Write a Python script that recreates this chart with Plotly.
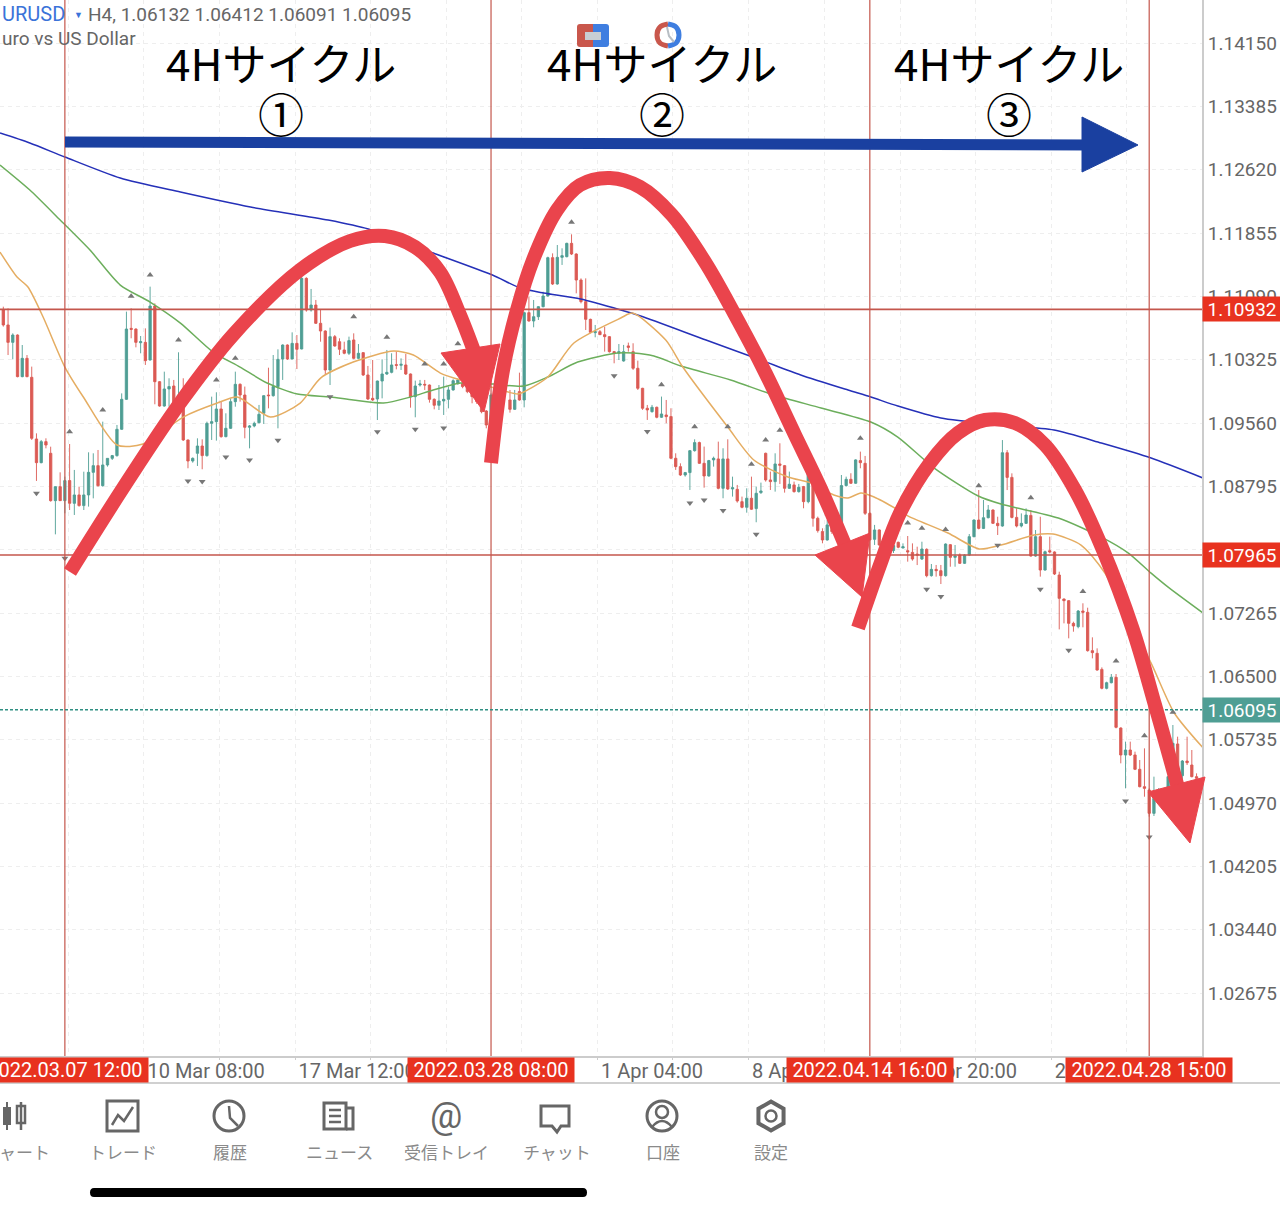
import numpy as np
import plotly.graph_objects as go

# candles, in points (1/100000 of a price unit), one per 4H bar
opens = [110925,110744,110534,110623,110120,110341,110112,109367,109081,109335,
         109194,108622,108791,108622,108864,108590,108691,108562,108691,108964,
         109045,108803,109053,109133,109166,109484,109846,110703,110695,110530,
         110534,110321,110973,110059,109765,109971,110007,109765,109765,109355,
         109101,109194,109282,109166,109556,109576,109729,109395,109496,109818,
         110027,109898,109508,109524,109564,109677,109898,109890,110000,110333,
         110502,110333,110522,110454,111307,110925,110985,110764,110671,110200,
         110603,110542,110442,110402,110563,110341,110410,110140,109858,109850,
         110067,110152,110172,110265,110257,110261,110152,109878,110019,110027,
         110019,109846,109774,109826,109846,109959,110039,110039,110000,109939,
         109878,109818,109705,109556,109959,109959,110019,109838,109725,109939,
         109838,110893,110792,110844,110965,111094,111557,111239,111561,111569,
         111730,111601,111287,111026,110812,110651,110663,110627,110603,110422,
         110402,110309,110491,110422,110221,109979,109738,109697,109750,109629,
         109657,109637,109134,109033,108932,108961,109226,109323,109073,108920,
         109114,109126,108771,109126,108763,108759,108610,108542,108651,108526,
         108719,109194,108872,108852,109065,109045,108771,108812,108731,108792,
         108610,108872,108409,108248,108147,108308,108268,108308,108804,108880,
         108832,109106,109073,108469,108155,108268,108087,108030,108020,108119,
         108050,108018,107997,107977,107917,108034,107716,107792,107776,107716,
         108090,107937,107965,107865,107965,108187,108388,108287,108416,108509,
         108348,108316,109201,108903,108420,108316,108348,108444,107953,108187,
         107784,108018,108002,107724,107434,107414,107140,107100,107289,107273,
         106810,106778,106584,106355,106423,106488,105876,105550,105610,105550,
         105377,105167,105127,104845,105026,105107,105147,105248,105683,105300,
         105477,105429,105288]
highs = [110965,110945,110643,110630,110502,110381,110241,109435,109355,109375,
         109274,108795,108964,108912,109306,108993,108791,108972,109206,109194,
         109234,109576,109133,109174,109536,109918,110905,110945,110703,110611,
         110703,111207,111005,110067,110180,110100,110080,110414,110100,109360,
         109145,109375,109363,109576,109878,109931,109818,109677,109858,110180,
         110039,110000,109536,109576,109778,109895,110228,110381,110450,110510,
         110510,110655,110623,111328,111320,111179,111046,110925,110680,110712,
         110623,110583,110542,110603,110643,110514,110415,110249,110321,110072,
         110329,110442,110402,110422,110341,110394,110158,110072,110080,110080,
         110025,109858,110019,110120,110000,110088,110100,110060,110020,109960,
         109900,109838,109717,109918,109980,110020,110040,109959,109959,110168,
         110905,111086,111046,110973,111146,111569,111609,111710,111670,111738,
         111839,111610,111307,111307,110820,110744,110683,110724,110610,110430,
         110514,110503,110531,110523,110313,109985,109778,109778,109758,109879,
         109838,109738,109194,109073,108969,109234,109363,109335,109275,109114,
         109154,109335,109255,109363,108912,108812,108671,108771,108912,108792,
         108840,109202,108973,109194,109315,109053,108973,108852,108824,108800,
         108973,108953,108429,108288,108389,108330,108490,108932,108912,108953,
         109122,109214,109162,108480,108329,108276,108120,108060,108110,108127,
         108106,108195,108106,108066,108126,108046,107857,107845,107845,108106,
         108098,108086,107985,107977,108219,108396,108750,108630,108569,108517,
         108428,109354,109233,108952,108529,108468,108529,108509,108267,108428,
         108018,108187,108010,107764,107440,107420,107160,107301,107382,107329,
         106971,106838,106608,106435,106528,106528,105884,105711,105711,105590,
         105489,105630,105147,105288,105150,105130,105300,105912,105771,105489,
         105771,105610,105328]
lows = [110724,110381,110329,110112,110112,110112,109355,108860,109073,109254,
        108610,108215,108618,108469,108509,108449,108550,108509,108550,108650,
        108791,108791,109033,109113,109153,109476,109838,110583,110474,110402,
        110261,110315,109786,109757,109757,109757,109737,109740,109343,109013,
        109081,109041,109001,109153,109355,109347,109383,109387,109488,109757,
        109818,109375,109254,109508,109556,109548,109737,109878,109496,110080,
        110321,110329,110212,110450,110905,110905,110756,110542,110140,110019,
        110482,110381,110390,110381,110329,110329,110128,109838,109826,109596,
        109858,110140,110160,110208,110200,110140,109745,109629,110000,109959,
        109806,109725,109717,109657,109737,109951,110020,109980,109920,109798,
        109790,109677,109496,109548,109880,109940,109960,109685,109717,109830,
        109749,110784,110716,110804,110957,111086,111227,111231,111469,111561,
        111589,111126,111005,110683,110643,110595,110623,110422,110410,110281,
        110321,110301,110422,110201,109959,109718,109597,109685,109617,109621,
        109557,109122,108993,108920,108912,108751,109214,109065,108779,108912,
        109033,108759,108651,108751,108671,108598,108530,108477,108510,108361,
        108703,108852,108751,108731,108824,108719,108763,108719,108719,108530,
        108590,108308,108236,108107,108139,108220,108240,108288,108792,108824,
        108824,109013,108449,107745,108087,108075,108000,107970,107990,108047,
        108046,107885,107897,107844,107905,107696,107704,107704,107615,107704,
        107824,107824,107857,107857,107953,108179,108275,108279,108408,108340,
        108207,108307,108750,108408,108299,108299,108340,107945,107945,107704,
        107776,107985,107724,107067,107140,106959,107039,107080,107092,106798,
        106717,106568,106343,106343,106415,105872,105449,105147,105538,105368,
        105159,105046,104805,104813,104990,105040,105040,105207,105228,105228,
        105429,105280,105248]
closes = [110744,110534,110623,110120,110341,110120,109375,109081,109335,109294,
          108622,108791,108622,108864,108590,108691,108562,108691,108964,109045,
          108803,109053,109133,109166,109484,109846,110695,110691,110534,110542,
          110313,110973,110059,109765,109971,110000,109765,109898,109355,109101,
          109133,109282,109166,109556,109576,109729,109395,109496,109818,110027,
          109898,109508,109524,109556,109665,109890,109890,110000,110329,110502,
          110333,110522,110450,111307,110925,110985,110764,110671,110200,110603,
          110490,110450,110402,110555,110341,110402,110140,109850,109838,110067,
          110152,110172,110261,110257,110269,110152,109878,110007,110031,110019,
          109846,109774,109826,109846,109959,110071,110080,110000,109939,109878,
          109818,109697,109536,109898,109898,110000,109979,109725,109838,109838,
          110893,110792,110844,110965,111094,111557,111239,111561,111581,111730,
          111601,111287,111026,110812,110655,110663,110627,110603,110422,110402,
          110422,110422,110474,110221,109979,109738,109718,109750,109629,109669,
          109637,109134,109033,108932,108961,109226,109323,109073,108920,109106,
          109134,108771,109126,108763,108779,108618,108542,108651,108518,108711,
          108739,108872,108852,109065,109049,108771,108820,108731,108784,108610,
          108953,108409,108260,108147,108329,108248,108469,108804,108880,108832,
          109114,109081,108469,108147,108268,108087,108030,108000,108080,108059,
          108066,108002,107917,107965,108038,107716,107792,107776,107716,108098,
          107937,107953,107865,107965,108187,108388,108287,108416,108509,108348,
          108320,109201,108903,108420,108316,108348,108448,107953,108187,107784,
          108005,108002,107736,107442,107414,107140,107108,107289,107273,106810,
          106786,106576,106355,106423,106488,105884,105550,105610,105550,105377,
          105167,105147,104845,105026,105107,105067,105288,105691,105248,105477,
          105457,105288,105268]

# moving averages, read at the bars where they bend
blue_idx = [-0.7,5.6,13,24.7,37.4,52.2,68.6,77.1,90.8,103.3,109.2,114.1,121.9,130.4,134.6,148.4,
            159.4,168.4,178.4,183.2,188.9,198,210.7,221.9,231.9,242.4,253.4]
blue_val = [113062,112942,112773,112519,112350,112169,112012,111903,111613,111347,111190,111130,
            111057,110925,110852,110562,110333,110140,109958,109874,109765,109620,109535,109475,
            109318,109137,108895]
green_idx = [-0.7,5.6,12,18.3,24.7,31,37.4,44.3,50,55.7,62.1,69.1,73.9,80.3,86,90.8,96.6,103.5,
             109.9,115,121.3,129.7,133.1,137.4,143.1,153.6,162.7,172.7,183.2,188.9,196.6,205.9,
             210.7,222.8,231.9,237.6,242.4,246,253.4]
green_val = [112676,112374,112012,111649,111226,111021,110767,110417,110236,110043,109910,109874,
             109837,109801,109874,109958,110043,110031,110006,110115,110296,110405,110405,110369,
             110248,110079,109898,109741,109572,109390,109016,108678,108581,108412,108182,107989,
             107747,107578,107264]
orange_idx = [-0.7,2.9,5.2,8.4,13,16.9,24,29.5,38,45.2,49.4,56.4,62.7,67,73.9,82.4,86.6,92.3,96.6,
              102.9,108.6,109.9,115,120.5,130.4,132.9,139.9,143.5,153,158.5,165.7,170.6,175.4,
              178.4,181.1,183.9,189,191.1,199.5,206.1,210.7,217.7,221.7,227.6,232.5,242.4,247.3,253.4]
orange_val = [111625,111323,111202,110840,110236,109874,109294,109306,109632,109801,109874,109632,
              109801,110103,110296,110429,110381,110163,110079,109994,109910,109934,110115,110526,
              110828,110888,110562,110236,109511,109113,108907,108835,108690,108654,108714,108666,
              108509,108436,108231,108038,108086,108207,108219,108086,107760,106660,106057,105634]

# fractal markers
up_idx = [14,21,27,31,37,45,49,74,81,89,93,96,111,120,139,146,153,158,161,164,181,191,194,199,206,217,228,235,241,247]
up_val = [109455,109717,111090,111348,110563,110080,110341,110844,110595,110273,110273,110518,111509,111984,
          110023,109516,109516,109061,109355,109472,109375,108353,108288,108275,108803,108658,107526,106685,105783,106065]
down_idx = [7,13,39,42,47,52,58,69,79,87,93,129,136,145,148,152,159,195,198,210,219,225,237,242]
down_val = [108711,107926,108860,108852,109149,109113,109351,109878,109455,109484,109500,110132,
            109456,108594,108631,108502,108216,107552,107463,108082,107551,106814,104994,104559]

# axis labels
price_ticks = ["1.14150","1.13385","1.12620","1.11855","1.11090","1.10325","1.09560","1.08795",
               "1.08030","1.07265","1.06500","1.05735","1.04970","1.04205","1.03440","1.02675"]
time_ticks = [29.7,61.6,93.6,125.5,157.4,189.4,221.3]
time_labels = ["10 Mar 08:00","17 Mar 12:00","","1 Apr 04:00","8 Apr 12:00","15 Apr 20:00","22 Apr 00:00"]
time_minor = [13.7,45.6,77.6,109.5,141.4,173.4,205.3,237.2]

# cycle boundaries and levels
cycle_idx = [13,103,183,242]
cycle_dates = ["2022.03.07 12:00","2022.03.28 08:00","2022.04.14 16:00","2022.04.28 15:00"]
levels = ["1.10932","1.07965"]
bid = "1.06095"

# hand drawn marks on the screenshot, in image pixels
stroke_1 = [(70,572),(125,485),(180,403),(233,335),(300,270),(350,241),(385,236),(415,247),(440,272),(460,315),(478,362)]
head_1 = [(441,353),(500,344),(484,412)]
stroke_2 = [(491,463),(503,370),(517,310),(533,260),(557,210),(580,185),(610,178),(640,187),(672,215),(705,262),(735,315),(765,372),(795,435),(820,487),(845,545)]
head_2 = [(815,555),(870,533),(862,597)]
stroke_3 = [(858,628),(880,565),(900,513),(930,463),(958,433),(985,420),(1015,423),(1045,445),(1075,490),(1103,550),(1133,630),(1155,705),(1180,795)]
head_3 = [(1148,792),(1205,777),(1190,843)]
blue_arrow = [(65,142),(1090,145)]
blue_head = [(1082,117),(1138,145),(1082,172)]
flag_left = [(668,24),(660,27),(657,35),(660,43),(668,46)]
flag_right = [(668,24),(676,27),(679,35),(676,43),(668,46)]
flag_hand = [(667,27),(669,36),(674,42)]
cycle_titles = [(281,"4Hサイクル","①"),(662,"4Hサイクル","②"),(1009,"4Hサイクル","③")]
nav_labels = [(24,"ャート"),(123,"トレード"),(230,"履歴"),(339,"ニュース"),(446,"受信トレイ"),(557,"チャット"),(663,"口座"),(771,"設定")]

RED = "#ea444c"
GREEN = "#4f9e94"
CANDLE_RED = "#db5a54"
LEVEL = "#c4564c"
GRID = "#eeeeee"
GREY = "#666666"
FONT = "Roboto"
CJK = "Noto Sans CJK JP"

n = len(opens)
idx = list(range(n))
x_range = [-0.7, 253.15]
pts = lambda v: np.array(v) / 1e5

fig = go.Figure()

fig.add_trace(go.Candlestick(
    x=idx, open=pts(opens), high=pts(highs), low=pts(lows), close=pts(closes),
    increasing=dict(line=dict(color=GREEN, width=0.9), fillcolor=GREEN),
    decreasing=dict(line=dict(color=CANDLE_RED, width=0.9), fillcolor=CANDLE_RED),
    whiskerwidth=0, showlegend=False))

for xs, ys, color in [(blue_idx, blue_val, "#2530b8"), (green_idx, green_val, "#6cae5c"), (orange_idx, orange_val, "#e5ad62")]:
    fig.add_trace(go.Scatter(x=xs, y=pts(ys), mode="lines", line=dict(color=color, width=1.5, shape="spline", smoothing=0.7)))

fig.add_trace(go.Scatter(x=up_idx, y=pts(up_val), mode="markers",
                         marker=dict(symbol="triangle-up", size=6, color="#777777")))
fig.add_trace(go.Scatter(x=down_idx, y=pts(down_val), mode="markers",
                         marker=dict(symbol="triangle-down", size=6, color="#777777")))

for c in cycle_idx:
    fig.add_trace(go.Scatter(x=[c, c], y=[1.01914, 1.146694], mode="lines", line=dict(color=LEVEL, width=1.2)))
for lv in levels:
    fig.add_trace(go.Scatter(x=x_range, y=[float(lv)] * 2, mode="lines", line=dict(color=LEVEL, width=1.6)))
fig.add_trace(go.Scatter(x=x_range, y=[float(bid)] * 2, mode="lines",
                         line=dict(color="#2f8f82", width=1.5, dash="3px,2px")))


def canvas_line(pts_xy, color, width, spline=False):
    fig.add_trace(go.Scatter(
        x=[p[0] for p in pts_xy], y=[p[1] for p in pts_xy], mode="lines", xaxis="x2", yaxis="y2",
        line=dict(color=color, width=width, shape="spline" if spline else "linear")))


def canvas_fill(pts_xy, color):
    closed = pts_xy + pts_xy[:1]
    fig.add_trace(go.Scatter(
        x=[p[0] for p in closed], y=[p[1] for p in closed], mode="lines", fill="toself", xaxis="x2", yaxis="y2",
        fillcolor=color, line=dict(color=color, width=1)))


canvas_line(blue_arrow, "#1a40a0", 11)
canvas_fill(blue_head, "#1a40a0")
for stroke, head in [(stroke_1, head_1), (stroke_2, head_2), (stroke_3, head_3)]:
    canvas_line(stroke, RED, 14, spline=True)
    canvas_fill(head, RED)

canvas_line(flag_left, "#c9574c", 5, spline=True)
canvas_line(flag_right, "#3f7ee0", 5, spline=True)
canvas_line(flag_hand, "#b8bec4", 2)

shapes = [
    # calendar flag at the top of the chart
    dict(type="path", path="M 580,24 L 593,24 L 593,47 L 580,47 Q 577,47 577,44 L 577,27 Q 577,24 580,24 Z",
         fillcolor="#c9574c", line_width=0),
    dict(type="path", path="M 593,24 L 606,24 Q 609,24 609,27 L 609,44 Q 609,47 606,47 L 593,47 Z",
         fillcolor="#3f7ee0", line_width=0),
    dict(type="rect", x0=585, x1=601, y0=32, y1=40, fillcolor="#c8ced4", line_width=0),
    # strip under the time axis and home bar
    dict(type="line", x0=0, x1=1280, y0=1083, y1=1083, line=dict(color="#d0d0d0", width=2)),
    dict(type="path", path="M 94,1188 L 583,1188 Q 587,1188 587,1192.5 Q 587,1197 583,1197 L 94,1197 "
                           "Q 90,1197 90,1192.5 Q 90,1188 94,1188 Z", fillcolor="#000000", line_width=0),
    # candle icon
    dict(type="rect", x0=3, x1=11, y0=1107, y1=1125, fillcolor=GREY, line_width=0),
    dict(type="line", x0=7, x1=7, y0=1102, y1=1130, line=dict(color=GREY, width=2)),
    dict(type="rect", x0=17, x1=25, y0=1106, y1=1123, fillcolor="#ffffff", line=dict(color=GREY, width=2.5)),
    dict(type="line", x0=21, x1=21, y0=1102, y1=1130, line=dict(color=GREY, width=2.5)),
    # trade icon
    dict(type="rect", x0=107, x1=138, y0=1101, y1=1131, line=dict(color=GREY, width=3)),
    dict(type="path", path="M 112,1125 L 118,1115 L 124,1121 L 133,1107", line=dict(color=GREY, width=2.5)),
    # history hands
    dict(type="path", path="M 229,1106 L 230,1118 L 238,1126", line=dict(color=GREY, width=2.5)),
    # news icon
    dict(type="rect", x0=324, x1=346, y0=1103, y1=1129, line=dict(color=GREY, width=3)),
    dict(type="path", path="M 346,1108 L 353,1108 L 353,1129 L 346,1129", line=dict(color=GREY, width=3)),
    dict(type="line", x0=329, x1=341, y0=1110, y1=1110, line=dict(color=GREY, width=2.5)),
    dict(type="line", x0=329, x1=341, y0=1116, y1=1116, line=dict(color=GREY, width=2.5)),
    dict(type="line", x0=329, x1=341, y0=1122, y1=1122, line=dict(color=GREY, width=2.5)),
    # chat icon
    dict(type="path", path="M 541,1106 L 569,1106 L 569,1126 L 561,1126 L 557,1132 L 552,1126 L 541,1126 Z",
         line=dict(color=GREY, width=3)),
    # account shoulders
    dict(type="path", path="M 652,1127 Q 662,1115 672,1127", line=dict(color=GREY, width=2.5)),
]
for s in shapes:
    s.update(xref="x2", yref="y2")

# history clock, account, settings
for xy, symbol, size, lw in [((229, 1116), "circle-open", 30, 3), ((662, 1116), "circle-open", 30, 3),
                             ((662, 1112), "circle-open", 12, 2.5), ((771, 1116), "hexagon-open", 29, 4),
                             ((771, 1116), "circle-open", 11, 2.5)]:
    fig.add_trace(go.Scatter(x=[xy[0]], y=[xy[1]], mode="markers", xaxis="x2", yaxis="y2",
                             marker=dict(symbol=symbol, size=size, color=GREY, line=dict(color=GREY, width=lw))))


def note(x, y, text, size, color, family=FONT, anchor="center", **kw):
    return dict(x=x, y=y, xref="x2", yref="y2", text=text, showarrow=False, xanchor=anchor,
                font=dict(family=family, size=size, color=color), **kw)


annotations = [
    note(0, 14, "URUSD", 20, "#3b73d9", anchor="left"),
    note(72, 15, "▼", 9, "#3b73d9", anchor="left"),
    note(86, 14, "H4, 1.06132 1.06412 1.06091 1.06095", 19, "#666666", anchor="left"),
    note(0, 38, "uro vs US Dollar", 19, "#666666", anchor="left"),
    note(446, 1116, "@", 36, GREY),
]
for x, title, num in cycle_titles:
    annotations.append(note(x, 62, title, 44, "#000000", family=CJK))
    annotations.append(note(x, 112, num, 46, "#000000", family=CJK))
for x, label in nav_labels:
    annotations.append(note(x, 1151, label, 17, "#8a8a8a", family=CJK))
for lv in levels:
    annotations.append(dict(x=1242, y=float(lv), xref="x2", yref="y", text=lv, showarrow=False, bgcolor="#e8321f",
                            width=76, height=22, font=dict(family=FONT, size=19, color="#ffffff")))
annotations.append(dict(x=1242, y=float(bid), xref="x2", yref="y", text=bid, showarrow=False, bgcolor=GREEN,
                        width=76, height=22, font=dict(family=FONT, size=19, color="#ffffff")))
for c, d in zip(cycle_idx, cycle_dates):
    annotations.append(dict(x=c, y=1070, xref="x", yref="y2", text=d, showarrow=False, bgcolor="#e8321f",
                            width=164, height=22, font=dict(family=FONT, size=20, color="#ffffff")))

fig.update_layout(
    width=1280, height=1209, margin=dict(l=0, r=0, t=0, b=0), showlegend=False,
    paper_bgcolor="#ffffff", plot_bgcolor="rgba(0,0,0,0)", hovermode=False,
    shapes=shapes, annotations=annotations,
    xaxis=dict(domain=[0, 1202 / 1280], range=x_range, rangeslider=dict(visible=False), anchor="y",
               tickmode="array", tickvals=time_ticks, ticktext=time_labels, ticklabelposition="outside right",
               ticklabelstandoff=-4, ticklabelshift=2,
               tickfont=dict(family=FONT, size=20, color="#666666"), ticks="outside", ticklen=2, tickcolor="#cccccc",
               showgrid=True, gridcolor=GRID, griddash="4px,4px", zeroline=False,
               showline=True, linecolor="#cccccc", linewidth=2,
               minor=dict(tickvals=time_minor, ticks="outside", ticklen=2, tickcolor="#cccccc",
                          showgrid=True, gridcolor=GRID, griddash="4px,4px")),
    yaxis=dict(domain=[153 / 1209, 1], range=[1.01914, 1.146694], anchor="x", side="right",
               tickmode="array", tickvals=[float(p) for p in price_ticks], ticktext=price_ticks,
               tickfont=dict(family=FONT, size=19, color="#666666"), ticks="", ticklen=0,
               showgrid=True, gridcolor=GRID, griddash="4px,4px", zeroline=False,
               showline=True, linecolor="#cccccc", linewidth=2),
    xaxis2=dict(domain=[0, 1], range=[0, 1280], visible=False, anchor="y2"),
    yaxis2=dict(domain=[0, 1], range=[1209, 0], visible=False, anchor="x2"),
)

# the page's default body margin would push the picture 8px in
fig.write_html("out.html", config={"displayModeBar": False}, post_script="document.body.style.margin='0';")
